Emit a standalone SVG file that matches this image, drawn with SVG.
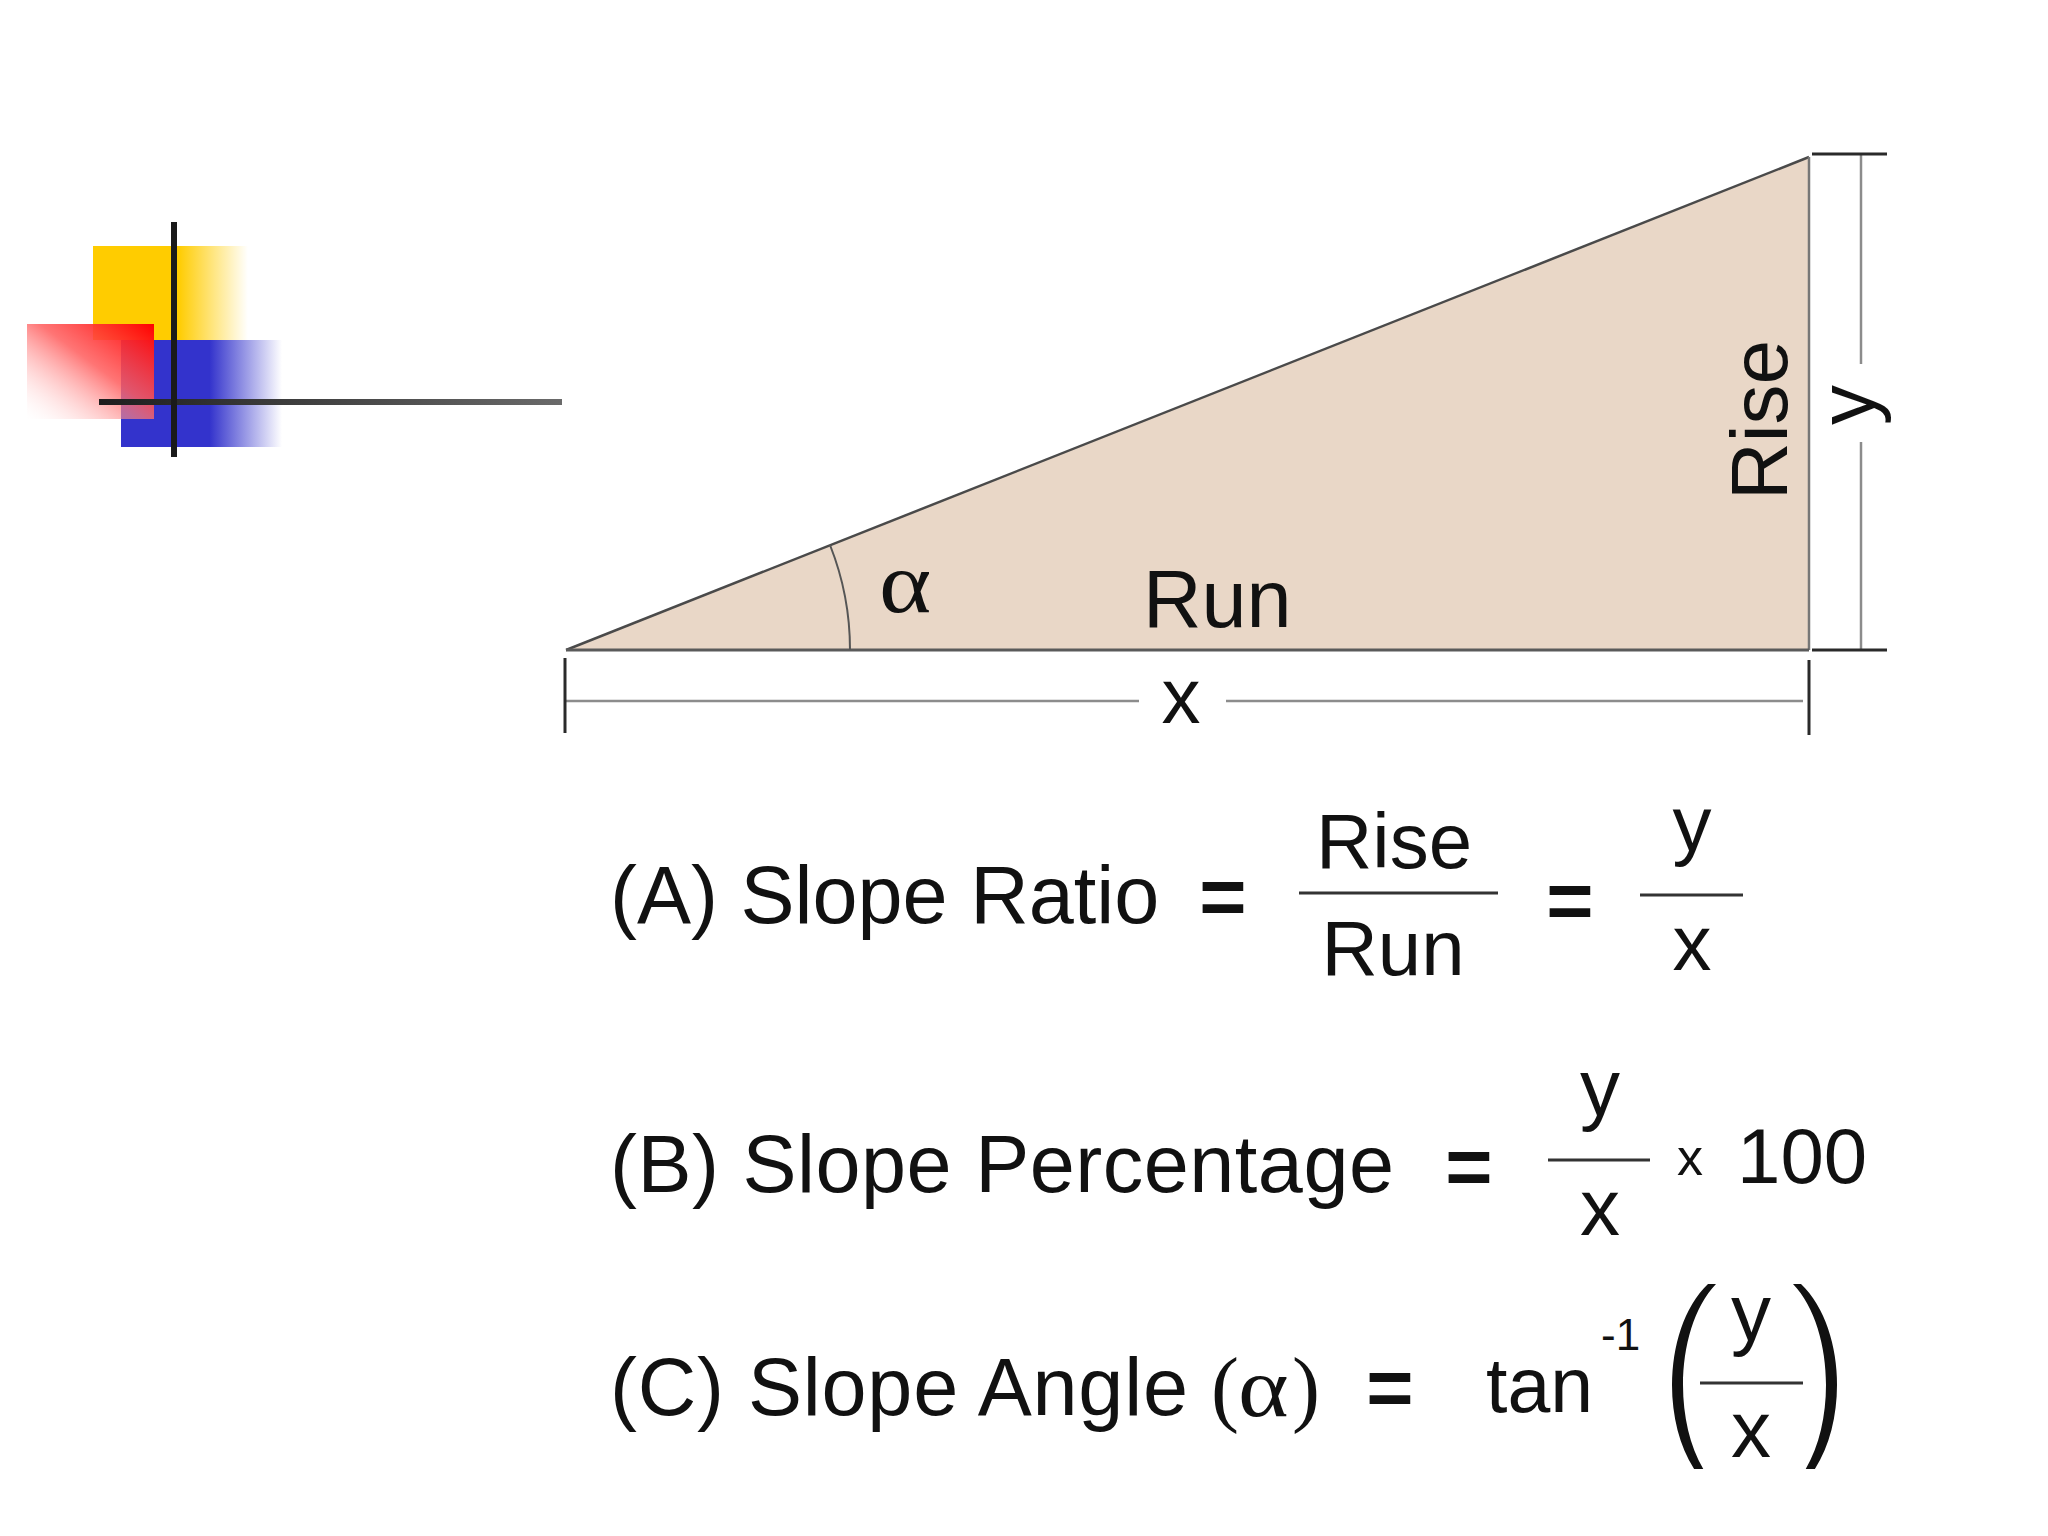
<svg xmlns="http://www.w3.org/2000/svg" width="2048" height="1536" viewBox="0 0 2048 1536">
<defs>
<style>
.t{font-family:"Liberation Sans",Arial,sans-serif;fill:#111}
.s{font-family:"Liberation Serif","Times New Roman",serif;fill:#111}
.f{font-size:81px}
.bar{stroke:#333;stroke-width:3}
.dim{stroke:#8c8c8c;stroke-width:2.5;fill:none}
.tick{stroke:#2a2a2a;stroke-width:3}
</style>
<linearGradient id="gY" x1="0" y1="0" x2="1" y2="0">
<stop offset="0" stop-color="#ffcc00"/>
<stop offset="0.55" stop-color="#ffcc00"/>
<stop offset="1" stop-color="#ffcc00" stop-opacity="0"/>
</linearGradient>
<linearGradient id="gB" x1="0" y1="0" x2="1" y2="0">
<stop offset="0" stop-color="#3333cc"/>
<stop offset="0.55" stop-color="#3333cc"/>
<stop offset="1" stop-color="#3333cc" stop-opacity="0"/>
</linearGradient>
<linearGradient id="gR" x1="1" y1="0" x2="0" y2="1">
<stop offset="0" stop-color="#ff0000"/>
<stop offset="0.45" stop-color="#ff5c5c" stop-opacity="0.85"/>
<stop offset="1" stop-color="#ffffff" stop-opacity="0.15"/>
</linearGradient>
<linearGradient id="gL" x1="0" y1="0" x2="1" y2="0">
<stop offset="0" stop-color="#1e1e1e"/>
<stop offset="1" stop-color="#6a6a6a"/>
</linearGradient>
<clipPath id="cut"><rect x="1600" y="1260" width="300" height="209"/></clipPath>
</defs>
<rect width="2048" height="1536" fill="#ffffff"/>

<g id="decoration">
<rect x="93" y="246" width="155" height="94" fill="url(#gY)"/>
<rect x="121" y="340" width="161" height="107" fill="url(#gB)"/>
<rect x="27" y="324" width="127" height="95" fill="url(#gR)"/>
<rect x="99" y="399" width="463" height="6" fill="url(#gL)"/>
<rect x="171" y="222" width="6" height="235" fill="#1a1a1a"/>
</g>

<g id="triangle">
<polygon points="566,650 1809,157 1809,650" fill="#e9d7c7" stroke="none"/>
<line x1="566" y1="650" x2="1809" y2="157" stroke="#4a4a4a" stroke-width="2.5"/>
<line x1="1809" y1="157" x2="1809" y2="650" stroke="#777" stroke-width="2.5"/>
<line x1="566" y1="650" x2="1809" y2="650" stroke="#5a5a5a" stroke-width="3"/>
<path d="M830,545 A284,284 0 0 1 850,650" fill="none" stroke="#555" stroke-width="2"/>
<text class="s" transform="translate(879,612) scale(1.16,1)" font-size="86">α</text>
<text class="t" x="1143" y="627" font-size="81">Run</text>
<text class="t" transform="translate(1787,420) rotate(-90)" text-anchor="middle" font-size="80">Rise</text>
</g>

<g id="dimensions">
<line class="dim" x1="566" y1="701" x2="1139" y2="701"/>
<line class="dim" x1="1226" y1="701" x2="1803" y2="701"/>
<line class="tick" x1="565" y1="658" x2="565" y2="733"/>
<line class="tick" x1="1809" y1="660" x2="1809" y2="735"/>
<text class="t" x="1181" y="723" text-anchor="middle" font-size="78">x</text>
<line class="dim" x1="1861" y1="155" x2="1861" y2="364"/>
<line class="dim" x1="1861" y1="442" x2="1861" y2="650"/>
<line class="tick" x1="1812" y1="154" x2="1887" y2="154"/>
<line class="tick" x1="1812" y1="650" x2="1887" y2="650"/>
<text class="t" transform="translate(1874,405) rotate(-90)" text-anchor="middle" font-size="80">y</text>
</g>

<g id="formulaA">
<text class="t f" x="610" y="923">(A) Slope Ratio</text>
<text class="t f" x="1223" y="925" text-anchor="middle" font-weight="bold">=</text>
<text class="t" x="1394" y="868" text-anchor="middle" font-size="78">Rise</text>
<line class="bar" x1="1299" y1="893" x2="1498" y2="893"/>
<text class="t" x="1393" y="975" text-anchor="middle" font-size="78">Run</text>
<text class="t f" x="1570" y="929" text-anchor="middle" font-weight="bold">=</text>
<text class="t" x="1692" y="851" text-anchor="middle" font-size="78">y</text>
<line class="bar" x1="1640" y1="895" x2="1743" y2="895"/>
<text class="t" x="1692" y="970" text-anchor="middle" font-size="78">x</text>
</g>

<g id="formulaB">
<text class="t f" x="610" y="1192" textLength="784" lengthAdjust="spacing">(B) Slope Percentage</text>
<text class="t f" x="1469" y="1195" text-anchor="middle" font-weight="bold">=</text>
<text class="t" x="1600" y="1115" text-anchor="middle" font-size="80">y</text>
<line class="bar" x1="1548" y1="1160" x2="1650" y2="1160"/>
<text class="t" x="1600" y="1235" text-anchor="middle" font-size="80">x</text>
<text class="t" x="1690" y="1175" text-anchor="middle" font-size="52">x</text>
<text class="t" x="1737" y="1183" font-size="78">100</text>
</g>

<g id="formulaC">
<text class="t f" x="610" y="1415" textLength="578" lengthAdjust="spacing">(C) Slope Angle</text>
<text class="s" x="1211" y="1416" font-size="84">(</text>
<text class="s" transform="translate(1238,1416) scale(1.15,1)" font-size="84">α</text>
<text class="s" x="1292" y="1416" font-size="84">)</text>
<text class="t f" x="1390" y="1416" text-anchor="middle" font-weight="bold">=</text>
<text class="t" x="1486" y="1412" font-size="77">tan</text>
<text class="t" x="1601" y="1350" font-size="44">-1</text>
<g clip-path="url(#cut)">
<path d="M1708,1284 C1660,1330 1660,1440 1708,1486 L1716,1486 C1672,1440 1672,1330 1716,1284 Z" fill="#111"/>
<path d="M1801,1284 C1849,1330 1849,1440 1801,1486 L1793,1486 C1837,1440 1837,1330 1793,1284 Z" fill="#111"/>
</g>
<text class="t" x="1751" y="1340" text-anchor="middle" font-size="80">y</text>
<line class="bar" x1="1700" y1="1383" x2="1803" y2="1383"/>
<text class="t" x="1751" y="1457" text-anchor="middle" font-size="80">x</text>
</g>
</svg>
